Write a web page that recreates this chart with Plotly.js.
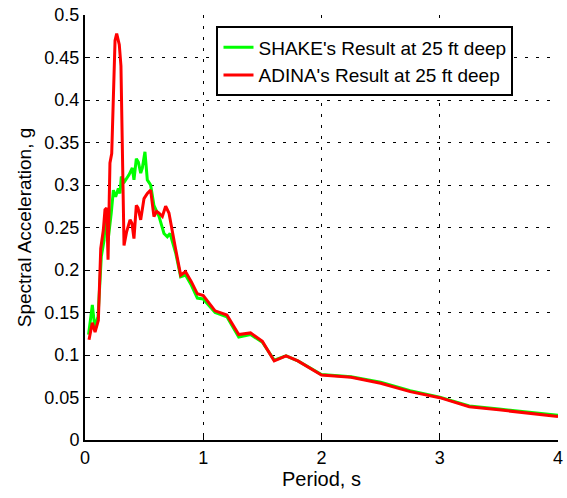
<!DOCTYPE html>
<html>
<head>
<meta charset="utf-8">
<script src="https://cdn.plot.ly/plotly-3.0.1.min.js"></script>
<style>
  html, body { margin: 0; padding: 0; background: #fff; }
  #chart { width: 567px; height: 498px; }
</style>
</head>
<body>
<div id="chart"></div>
<script>
// Series names
const seriesNames = ["SHAKE's Result at 25 ft deep", "ADINA's Result at 25 ft deep"];

// SHAKE (green) — period (s) and spectral acceleration (g)
const periodShake = [0.03, 0.062, 0.082, 0.11, 0.138, 0.161, 0.175, 0.195, 0.222, 0.24, 0.259, 0.282, 0.296,
  0.307, 0.335, 0.372, 0.4, 0.414, 0.434, 0.451, 0.471, 0.485, 0.507, 0.527, 0.555, 0.583, 0.626, 0.668,
  0.696, 0.719, 0.767, 0.809, 0.85, 0.9, 0.95, 1.0, 1.1, 1.2, 1.3, 1.4, 1.5, 1.6, 1.7, 1.8, 2.0, 2.25,
  2.5, 2.75, 3.0, 3.25, 3.5, 3.75, 4.0];
const saShake = [0.124, 0.159, 0.133, 0.145, 0.216, 0.235, 0.263, 0.235, 0.267, 0.294, 0.286, 0.296, 0.29,
  0.31, 0.304, 0.312, 0.32, 0.306, 0.331, 0.327, 0.314, 0.32, 0.339, 0.306, 0.3, 0.276, 0.263, 0.243,
  0.239, 0.243, 0.22, 0.192, 0.194, 0.182, 0.167, 0.166, 0.15, 0.145, 0.121, 0.124, 0.115, 0.094, 0.099,
  0.093, 0.077, 0.0745, 0.068, 0.058, 0.0505, 0.04, 0.0365, 0.0325, 0.029];

// ADINA (red) — period (s) and spectral acceleration (g)
const periodAdina = [0.034, 0.062, 0.085, 0.113, 0.133, 0.155, 0.169, 0.183, 0.195, 0.211, 0.226, 0.254,
  0.268, 0.29, 0.304, 0.33, 0.352, 0.381, 0.397, 0.414, 0.434, 0.448, 0.471, 0.499, 0.527, 0.555, 0.583,
  0.606, 0.626, 0.654, 0.682, 0.71, 0.767, 0.809, 0.85, 0.9, 0.95, 1.0, 1.1, 1.2, 1.3, 1.4, 1.5, 1.6,
  1.7, 1.8, 2.0, 2.25, 2.5, 2.75, 3.0, 3.25, 3.5, 3.75, 4.0];
const saAdina = [0.118, 0.138, 0.127, 0.141, 0.225, 0.247, 0.271, 0.273, 0.212, 0.326, 0.337, 0.47,
  0.478, 0.465, 0.44, 0.229, 0.245, 0.259, 0.255, 0.237, 0.276, 0.273, 0.259, 0.284, 0.29, 0.294, 0.263,
  0.269, 0.267, 0.263, 0.275, 0.267, 0.224, 0.194, 0.198, 0.186, 0.172, 0.17, 0.152, 0.147, 0.124, 0.126,
  0.116, 0.093, 0.099, 0.093, 0.0765, 0.0737, 0.0667, 0.0569, 0.0498, 0.0392, 0.0355, 0.0315, 0.0275];

// Axis ranges and ticks
const xRange = [0, 4];
const yRange = [0, 0.5];
const xTicks = [0, 1, 2, 3, 4];
const xTickLabels = ["0", "1", "2", "3", "4"];
const yTicks = [0, 0.05, 0.1, 0.15, 0.2, 0.25, 0.3, 0.35, 0.4, 0.45, 0.5];
const yTickLabels = ["0", "0.05", "0.1", "0.15", "0.2", "0.25", "0.3", "0.35", "0.4", "0.45", "0.5"];

const FONT = "'Liberation Sans', Arial, Helvetica, sans-serif";

const traces = [
  { x: periodShake, y: saShake, name: seriesNames[0], type: 'scatter', mode: 'lines',
    line: { color: '#00ff00', width: 3 } },
  { x: periodAdina, y: saAdina, name: seriesNames[1], type: 'scatter', mode: 'lines',
    line: { color: '#ff0000', width: 3 } }
];

function axisStyle(extra) {
  return Object.assign({
    showline: true, linecolor: '#000', linewidth: 2,
    ticks: 'inside', ticklen: 5, tickwidth: 1, tickcolor: '#000',
    showgrid: true, gridcolor: '#000', gridwidth: 1, griddash: 'dot',
    zeroline: false, mirror: false,
    tickfont: { family: FONT, size: 18, color: '#000' },
    automargin: false
  }, extra);
}

const layout = {
  width: 567, height: 498,
  margin: { l: 85, r: 9, t: 15, b: 58 },
  font: { family: FONT, color: '#000' },
  showlegend: true,
  legend: {
    x: 0.278, y: 0.973, xanchor: 'left', yanchor: 'top',
    bgcolor: '#fff', bordercolor: '#000', borderwidth: 2,
    font: { family: FONT, size: 19, color: '#000' },
    tracegroupgap: 0
  },
  xaxis: axisStyle({
    range: xRange, tickvals: xTicks, ticktext: xTickLabels,
    title: { text: 'Period, s', font: { family: FONT, size: 20, color: '#000' }, standoff: 0 }
  }),
  yaxis: axisStyle({
    range: yRange, tickvals: yTicks, ticktext: yTickLabels,
    title: { text: 'Spectral Acceleration, g', font: { family: FONT, size: 19, color: '#000' }, standoff: 8 }
  })
};

Plotly.newPlot('chart', traces, layout, { displayModeBar: false, staticPlot: true }).then(function (gd) {
  // Use a custom dash pattern closer to the reference and force a full repaint of the grid
  const grids = gd.querySelectorAll('path.xgrid, path.ygrid');
  grids.forEach(function (p) {
    p.style.strokeDasharray = '3px, 8px';
    p.style.shapeRendering = 'crispEdges';
  });
  const svg = gd.querySelector('.main-svg');
  requestAnimationFrame(function () {
    svg.style.opacity = '0.999';
    requestAnimationFrame(function () { svg.style.opacity = '1'; });
  });
});
</script>
</body>
</html>
